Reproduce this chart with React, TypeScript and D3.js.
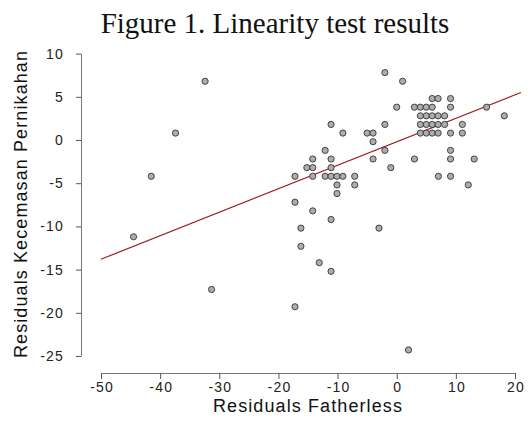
import { useEffect, useRef } from 'react';
import * as d3 from 'd3';

// residuals (x = Fatherless, y = Kecemasan Pernikahan)
const residFatherless = [
  -2,
  -32.4, 1,
  6, 7, 9.1,
  0, 3, 4, 5, 6, 9.1, 15.2,
  4, 5, 6, 7, 8.1, 18.2,
  -11.1, -2, 4, 5, 6, 7, 8.1, 11.1,
  -37.4, -9.1, -5, -4, 4, 5, 6, 7, 9.1, 11.1,
  -4,
  -12.1, -2, 9.1,
  -14.2, -11.1, -4, 3, 9.1, 13.1,
  -15.2, -14.2, -11.1, -1,
  -41.5, -17.2, -14.2, -12.1, -11.1, -10.1, -9.1, -7.1, 7.05, 9.1,
  -10.1, -7.1, 12.1,
  -10.1,
  -17.2,
  -14.2,
  -11.1,
  -16.2, -3,
  -44.5,
  -16.2,
  -13.1,
  -11.1,
  -31.3,
  -17.2,
  2,
];
const residKecemasan = [
  7.8,
  6.8, 6.8,
  4.8, 4.8, 4.8,
  3.8, 3.8, 3.8, 3.8, 3.8, 3.8, 3.8,
  2.8, 2.8, 2.8, 2.8, 2.8, 2.8,
  1.8, 1.8, 1.8, 1.8, 1.8, 1.8, 1.8, 1.8,
  0.8, 0.8, 0.8, 0.8, 0.8, 0.8, 0.8, 0.8, 0.8, 0.8,
  -0.2,
  -1.2, -1.2, -1.2,
  -2.2, -2.2, -2.2, -2.2, -2.2, -2.2,
  -3.2, -3.2, -3.2, -3.2,
  -4.2, -4.2, -4.2, -4.2, -4.2, -4.2, -4.2, -4.2, -4.2, -4.2,
  -5.2, -5.2, -5.2,
  -6.2,
  -7.2,
  -8.2,
  -9.2,
  -10.2, -10.2,
  -11.2,
  -12.3,
  -14.2,
  -15.2,
  -17.3,
  -19.3,
  -24.3,
];

// fitted line, two ends
const fitX = [-50, 21];
const fitY = [-13.8, 5.5];

const xTicks = [-50, -40, -30, -20, -10, 0, 10, 20];
const yTicks = [10, 5, 0, -5, -10, -15, -20, -25];

const W = 528;
const H = 437;

export default function App() {
  const svgRef = useRef<SVGSVGElement | null>(null);

  useEffect(() => {
    if (!svgRef.current) return;
    const svg = d3.select(svgRef.current);
    svg.selectAll('*').remove();

    const x = d3.scaleLinear().domain([-50, 20]).range([101, 515]);
    const y = d3.scaleLinear().domain([-25, 10]).range([356, 53.6]);

    const sans = '"Liberation Sans", Arial, sans-serif';

    // title
    svg.append('text')
      .attr('x', 275)
      .attr('y', 33)
      .attr('text-anchor', 'middle')
      .attr('font-family', '"Liberation Serif", "Times New Roman", serif')
      .attr('font-size', '29px')
      .attr('fill', '#111')
      .text('Figure 1. Linearity test results');

    // y axis
    const gy = svg.append('g')
      .attr('transform', 'translate(81,0)')
      .call(d3.axisLeft(y).tickValues(yTicks).tickSize(5).tickSizeOuter(0).tickPadding(12).tickFormat(d => String(d)));
    gy.selectAll('text')
      .attr('font-family', sans)
      .attr('font-size', '14px')
      .attr('letter-spacing', '1.2px')
      .attr('fill', '#222');

    // x axis
    const gx = svg.append('g')
      .attr('transform', 'translate(0,373)')
      .call(d3.axisBottom(x).tickValues(xTicks).tickSize(6).tickSizeOuter(0).tickPadding(3).tickFormat(d => String(d)));
    gx.selectAll('text')
      .attr('font-family', sans)
      .attr('font-size', '14px')
      .attr('letter-spacing', '1.2px')
      .attr('dx', '0.6')
      .attr('fill', '#222');

    svg.selectAll('.domain').attr('stroke', '#777').attr('stroke-width', 1);
    svg.selectAll('.tick line').attr('stroke', '#555');

    // fit line
    const line = d3.line<number>()
      .x(d => x(d))
      .y((d, i) => y(fitY[i]));
    svg.append('path')
      .datum(fitX)
      .attr('fill', 'none')
      .attr('stroke', '#9e1b1b')
      .attr('stroke-width', 1.2)
      .attr('d', line);

    // points
    svg.append('g')
      .selectAll('circle')
      .data(residFatherless)
      .join('circle')
      .attr('cx', d => x(d))
      .attr('cy', (d, i) => y(residKecemasan[i]))
      .attr('r', 3.1)
      .attr('fill', '#adadad')
      .attr('stroke', '#333')
      .attr('stroke-width', 0.9);

    // axis labels
    svg.append('text')
      .attr('x', 308)
      .attr('y', 412)
      .attr('text-anchor', 'middle')
      .attr('font-family', sans)
      .attr('font-size', '18px')
      .attr('letter-spacing', '1.1px')
      .attr('fill', '#111')
      .text('Residuals Fatherless');

    svg.append('text')
      .attr('transform', 'translate(27,204) rotate(-90)')
      .attr('text-anchor', 'middle')
      .attr('font-family', sans)
      .attr('font-size', '18px')
      .attr('letter-spacing', '1.1px')
      .attr('fill', '#111')
      .text('Residuals Kecemasan Pernikahan');
  }, []);

  return (
    <svg
      ref={svgRef}
      width={W}
      height={H}
      style={{ position: 'absolute', left: 0, top: 0, background: '#fff' }}
    />
  );
}
